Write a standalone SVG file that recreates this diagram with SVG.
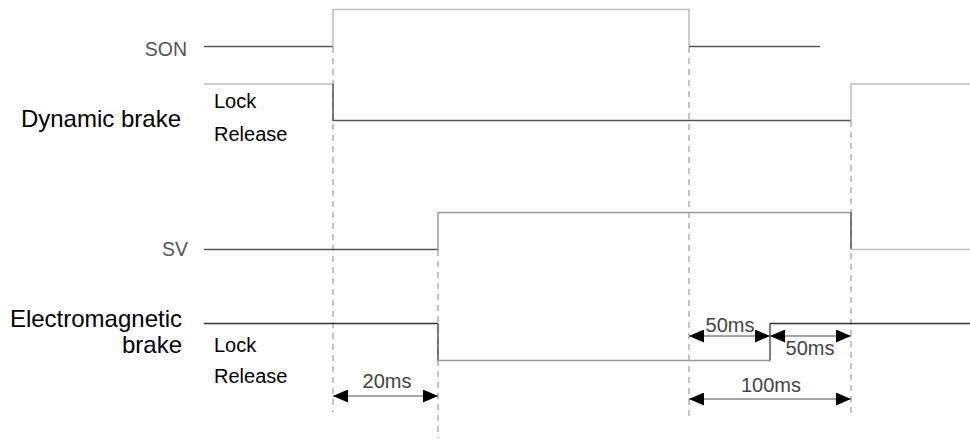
<svg xmlns="http://www.w3.org/2000/svg" width="970" height="445" viewBox="0 0 970 445">
<defs>
<style>
.sig{fill:none;stroke-width:1.5}
.dk{stroke:#555}
.bk{stroke:#333}
.lt{stroke:#bdbdbd}
.md{stroke:#999}
.dash{fill:none;stroke:#b0b0b0;stroke-width:1.5;stroke-dasharray:6 5}
.dim{fill:none;stroke:#888;stroke-width:1.5;marker-start:url(#ah);marker-end:url(#ah)}
.lbl{font-family:"Liberation Sans",Arial,sans-serif;fill:#000}
.big{font-size:24px}
.st{font-size:20px}
.sg{font-size:19.5px;fill:#555}
.tm{font-size:20px;fill:#444;text-anchor:middle}
</style>
<marker id="ah" viewBox="0 0 15 13" refX="15" refY="6.5" markerWidth="15" markerHeight="13" markerUnits="userSpaceOnUse" orient="auto-start-reverse">
<path d="M0,0 L15,6.5 L0,13 z" fill="#000"/>
</marker>
</defs>
<rect width="970" height="445" fill="#fff"/>

<g id="connectors">
<line class="dash" x1="333" y1="47" x2="333" y2="412"/>
<line class="dash" x1="438" y1="250" x2="438" y2="438"/>
<line class="dash" x1="689" y1="47" x2="689" y2="417"/>
<line class="dash" x1="851" y1="121" x2="851" y2="417"/>
<line class="dim" x1="333" y1="396" x2="438" y2="396"/>
<line class="dim" x1="689" y1="336" x2="770" y2="336"/>
<line class="dim" x1="770" y1="336" x2="851" y2="336"/>
<line class="dim" x1="689" y1="399" x2="851" y2="399"/>
</g>

<g id="son">
<text class="lbl sg" x="187" y="56" text-anchor="end">SON</text>
<path class="sig dk" d="M204,46.5 H333"/>
<path class="sig lt" d="M333,46.5 V9.5 H689 V46.5"/>
<path class="sig dk" d="M689,46.5 H820"/>
</g>

<g id="dynamic-brake">
<text class="lbl big" x="181" y="127" text-anchor="end">Dynamic brake</text>
<text class="lbl st" x="214" y="108">Lock</text>
<text class="lbl st" x="214" y="141">Release</text>
<path class="sig lt" d="M204,84 H333"/>
<path class="sig dk" d="M333,84 V120.5 H851"/>
<path class="sig lt" d="M851,120.5 V84 H970"/>
</g>

<g id="sv">
<text class="lbl sg" x="188" y="256" text-anchor="end">SV</text>
<path class="sig dk" d="M204,249.5 H438"/>
<path class="sig md" d="M438,249.5 V212.5 H851"/>
<path class="sig dk" d="M851,212.5 V249.5"/>
<path class="sig lt" d="M851,249.5 H970"/>
</g>

<g id="electromagnetic-brake">
<text class="lbl big" x="182" y="327" text-anchor="end">Electromagnetic</text>
<text class="lbl big" x="182" y="353" text-anchor="end">brake</text>
<text class="lbl st" x="214" y="352">Lock</text>
<text class="lbl st" x="214" y="383">Release</text>
<path class="sig bk" d="M204,323.5 H438"/>
<path class="sig dk" d="M438,323.5 V360.5"/>
<path class="sig md" d="M438,360.5 H770"/>
<path class="sig dk" d="M770,360.5 V323.5"/>
<path class="sig bk" d="M770,323.5 H970"/>
</g>

<g id="timing-labels">
<text class="lbl tm" x="387" y="388">20ms</text>
<text class="lbl tm" x="730" y="332">50ms</text>
<text class="lbl tm" x="810" y="355">50ms</text>
<text class="lbl tm" x="771" y="392">100ms</text>
</g>
</svg>
